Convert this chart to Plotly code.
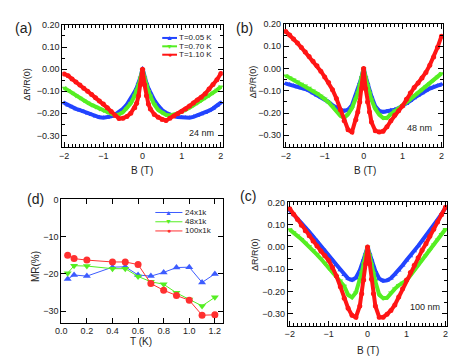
import plotly.graph_objects as go

# ---------------- data ----------------
B = [-2.0, -1.9, -1.8, -1.7, -1.6, -1.5, -1.4, -1.3, -1.2, -1.1, -1.0, -0.9, -0.8, -0.7, -0.6,
     -0.5, -0.4, -0.3, -0.2, -0.15, -0.1, -0.05, 0.0, 0.05, 0.1, 0.15, 0.2, 0.3, 0.4, 0.5,
     0.6, 0.7, 0.8, 0.9, 1.0, 1.1, 1.2, 1.3, 1.4, 1.5, 1.6, 1.7, 1.8, 1.9, 2.0]

# panel (a) 24 nm
a_005 = [-0.153, -0.163, -0.172, -0.180, -0.186, -0.192, -0.200, -0.207, -0.213, -0.218, -0.220,
         -0.219, -0.214, -0.206, -0.195, -0.180, -0.160, -0.135, -0.103, -0.085, -0.062, -0.035,
         0.003, -0.035, -0.063, -0.087, -0.107, -0.140, -0.165, -0.185, -0.198, -0.207, -0.213,
         -0.217, -0.219, -0.220, -0.220, -0.216, -0.210, -0.203, -0.197, -0.188, -0.178, -0.166, -0.152]
a_070 = [-0.085, -0.097, -0.108, -0.120, -0.131, -0.142, -0.152, -0.162, -0.171, -0.180, -0.187,
         -0.195, -0.202, -0.208, -0.205, -0.195, -0.178, -0.155, -0.120, -0.098, -0.072, -0.040,
         0.0, -0.040, -0.075, -0.100, -0.122, -0.160, -0.185, -0.198, -0.207, -0.210, -0.207,
         -0.200, -0.193, -0.185, -0.175, -0.164, -0.153, -0.142, -0.131, -0.120, -0.108, -0.095, -0.080]
a_110 = [-0.022, -0.030, -0.045, -0.058, -0.072, -0.087, -0.100, -0.115, -0.130, -0.144, -0.158,
         -0.175, -0.192, -0.210, -0.223, -0.222, -0.215, -0.200, -0.175, -0.155, -0.120, -0.070,
         0.0, -0.070, -0.120, -0.158, -0.180, -0.205, -0.218, -0.228, -0.233, -0.222, -0.212,
         -0.202, -0.192, -0.180, -0.167, -0.153, -0.140, -0.127, -0.112, -0.090, -0.070, -0.048, -0.020]

# panel (b) 48 nm
b_005 = [-0.068, -0.072, -0.078, -0.083, -0.087, -0.092, -0.100, -0.110, -0.120, -0.128, -0.136,
         -0.150, -0.165, -0.176, -0.185, -0.190, -0.185, -0.165, -0.120, -0.095, -0.065, -0.035,
         0.0, -0.035, -0.065, -0.098, -0.125, -0.170, -0.190, -0.195, -0.192, -0.188, -0.185,
         -0.178, -0.168, -0.158, -0.145, -0.132, -0.120, -0.110, -0.100, -0.090, -0.082, -0.077, -0.072]
b_070 = [-0.032, -0.042, -0.050, -0.060, -0.070, -0.078, -0.088, -0.100, -0.112, -0.124, -0.136,
         -0.152, -0.172, -0.192, -0.212, -0.222, -0.205, -0.178, -0.138, -0.110, -0.075, -0.040,
         0.0, -0.040, -0.075, -0.110, -0.140, -0.182, -0.207, -0.222, -0.222, -0.205, -0.190,
         -0.178, -0.165, -0.152, -0.138, -0.124, -0.110, -0.096, -0.082, -0.068, -0.053, -0.038, -0.022]
b_110 = [0.166, 0.150, 0.132, 0.114, 0.094, 0.074, 0.054, 0.033, 0.012, -0.012, -0.038,
         -0.063, -0.095, -0.135, -0.185, -0.235, -0.275, -0.285, -0.230, -0.195, -0.150, -0.090,
         0.0, -0.090, -0.150, -0.195, -0.240, -0.280, -0.285, -0.282, -0.262, -0.235, -0.210,
         -0.190, -0.168, -0.138, -0.110, -0.085, -0.065, -0.043, -0.018, 0.015, 0.052, 0.095, 0.145]

# panel (c) 100 nm
c_005 = [0.165, 0.147, 0.128, 0.108, 0.088, 0.068, 0.048, 0.028, 0.005, -0.015, -0.037,
         -0.058, -0.080, -0.103, -0.125, -0.142, -0.148, -0.138, -0.105, -0.085, -0.055, -0.028,
         0.0, -0.028, -0.055, -0.085, -0.108, -0.142, -0.152, -0.150, -0.140, -0.122, -0.104,
         -0.082, -0.060, -0.040, -0.018, 0.005, 0.028, 0.050, 0.074, 0.098, 0.123, 0.148, 0.175]
c_070 = [0.078, 0.065, 0.050, 0.035, 0.018, 0.002, -0.015, -0.034, -0.053, -0.074, -0.095,
         -0.115, -0.133, -0.152, -0.175, -0.215, -0.226, -0.205, -0.150, -0.115, -0.075, -0.038,
         0.0, -0.038, -0.078, -0.118, -0.155, -0.215, -0.230, -0.228, -0.205, -0.188, -0.172,
         -0.162, -0.150, -0.128, -0.105, -0.083, -0.060, -0.038, -0.015, 0.010, 0.033, 0.057, 0.080]
c_110 = [0.172, 0.147, 0.123, 0.098, 0.073, 0.050, 0.027, 0.005, -0.018, -0.038, -0.060,
         -0.093, -0.130, -0.178, -0.230, -0.275, -0.307, -0.315, -0.265, -0.210, -0.148, -0.075,
         0.0, -0.075, -0.145, -0.210, -0.265, -0.315, -0.315, -0.302, -0.285, -0.260, -0.225,
         -0.187, -0.148, -0.115, -0.082, -0.048, -0.015, 0.015, 0.048, 0.080, 0.112, 0.145, 0.178]

# panel (d) MR vs T
T = [0.05, 0.1, 0.2, 0.4, 0.5, 0.6, 0.7, 0.8, 0.9, 1.0, 1.1, 1.2]
mr_24 = [-21.4, -20.3, -20.6, -18.2, -18.1, -20.3, -20.6, -19.6, -18.3, -18.2, -22.3, -20.0]
mr_48 = [-19.8, -17.8, -17.9, -18.6, -18.6, -20.7, -22.1, -22.8, -25.1, -26.9, -28.6, -26.3]
mr_100 = [-15.0, -15.9, -16.3, -16.8, -16.8, -17.5, -22.6, -24.4, -25.8, -27.1, -31.1, -31.0]

temps_labels = ["T=0.05 K", "T=0.70 K", "T=1.10 K"]
mr_labels = ["24x1k", "48x1k", "100x1k"]

BLUE = "#2244ff"
GREEN = "#55ee22"
RED = "#ff1515"
COLORS = [BLUE, GREEN, RED]
COLORS_D = ["#3d5cff", "#55ee22", "#ff3030"]
SYMBOLS = ["triangle-up", "triangle-down", "circle"]
GLYPHS = ["\u25B2", "\u25BC", "\u25CF"]

W, H = 463, 361
FONT = "Liberation Sans, Arial, sans-serif"
TXT = "#222222"


def px(x):
    return x / W


def py(y):
    return 1 - y / H


fig = go.Figure()

panels = [
    ("x", "y", [a_005, a_070, a_110]),
    ("x2", "y2", [b_005, b_070, b_110]),
    ("x3", "y3", [c_005, c_070, c_110]),
]
for xa, ya, series in panels:
    for vals, col, sym in zip(series, COLORS, SYMBOLS):
        fig.add_trace(go.Scatter(
            x=B, y=vals, xaxis=xa, yaxis=ya, mode="lines+markers",
            line=dict(color=col, width=4),
            marker=dict(color=col, symbol=sym, size=5, line=dict(width=0)),
            showlegend=False, hoverinfo="skip"))

for vals, col, sym in zip([mr_24, mr_48, mr_100], COLORS_D, SYMBOLS):
    fig.add_trace(go.Scatter(
        x=T, y=vals, xaxis="x4", yaxis="y4", mode="lines+markers",
        line=dict(color=col, width=1),
        marker=dict(color=col, symbol=sym, size=7, line=dict(width=0)),
        showlegend=False, hoverinfo="skip"))

axis_common = dict(
    showgrid=False, zeroline=False, showline=True, linecolor="black", linewidth=1,
    mirror="ticks", ticks="inside", ticklen=5, tickwidth=1, tickcolor="black",
    tickfont=dict(family=FONT, size=9, color=TXT),
)

bx = dict(axis_common, range=[-2.05, 2.05], tickmode="linear", tick0=0, dtick=1,
          minor=dict(tickmode="linear", tick0=0, dtick=0.1, ticks="inside", ticklen=3,
                     tickcolor="black", tickwidth=1))
by = dict(axis_common, range=[-0.353, 0.2005], tickmode="linear", tick0=0, dtick=0.1,
          tickformat=".2f",
          minor=dict(tickmode="linear", tick0=0, dtick=0.05, ticks="inside", ticklen=3,
                     tickcolor="black", tickwidth=1))

fig.update_layout(
    width=W, height=H, margin=dict(l=0, r=0, t=0, b=0),
    paper_bgcolor="white", plot_bgcolor="white",
    xaxis=dict(bx, domain=[px(49), px(212)], anchor="y"),
    yaxis=dict(by, domain=[py(136), py(12)], anchor="x"),
    xaxis2=dict(bx, domain=[px(274), px(436)], anchor="y2"),
    yaxis2=dict(by, domain=[py(136), py(11)], anchor="x2"),
    xaxis3=dict(bx, domain=[px(278), px(440)], anchor="y3"),
    yaxis3=dict(by, domain=[py(317), py(192)], anchor="x3"),
    xaxis4=dict(axis_common, range=[0, 1.262], tickmode="linear", tick0=0, dtick=0.2,
                tickformat=".1f", domain=[px(48), px(212)], anchor="y4"),
    yaxis4=dict(axis_common, range=[-33.1, 0.01], tickmode="linear", tick0=0, dtick=10,
                domain=[py(314), py(189)], anchor="x4"),
    showlegend=False,
)

ann = []
shapes = []


def text(x, y, s, size=9, angle=0, xanchor="center", color=TXT):
    ann.append(dict(x=px(x), y=py(y), xref="paper", yref="paper", text=s, showarrow=False,
                    font=dict(family=FONT, size=size, color=color), textangle=angle,
                    xanchor=xanchor, yanchor="middle", borderpad=0))


# panel labels
text(10, 15, "(a)", size=14)
text(234, 15, "(b)", size=14)
text(22, 189, "(d)", size=14)
text(238, 186, "(c)", size=14)

# axis titles
text(13, 72, "\u0394R/R(0)", size=9, angle=-90)
text(243, 70, "\u0394R/R(0)", size=9, angle=-90)
text(244, 245, "\u0394R/R(0)", size=9, angle=-90)
text(22, 257, "MR(%)", size=10, angle=-90)
text(130, 160, "B (T)", size=10)
text(356, 160, "B (T)", size=10)
text(359, 342, "B (T)", size=10)
text(129, 333, "T (K)", size=10)

# sample annotations
text(190, 122, "24 nm", size=9)
text(412, 117, "48 nm", size=9)
text(417, 298, "100 nm", size=9)


def legend(rows_y, x0, x1, labels, lw, cols, size):
    for yy, lab, col, g in zip(rows_y, labels, cols, GLYPHS):
        shapes.append(dict(type="line", xref="paper", yref="paper", x0=px(x0), x1=px(x1),
                           y0=py(yy), y1=py(yy), line=dict(color=col, width=lw)))
        text((x0 + x1) / 2, yy, g, size=7, color=col)
        text(x1 + 1.5, yy, lab, size=size, xanchor="left")


legend([25.3, 33.8, 42.3], 150.5, 165.5, temps_labels, 2, COLORS, 8)
legend([202.3, 211.7, 221], 143.5, 171, mr_labels, 1, COLORS_D, 8)

fig.update_layout(annotations=ann, shapes=shapes)
fig.write_html("out.html")
